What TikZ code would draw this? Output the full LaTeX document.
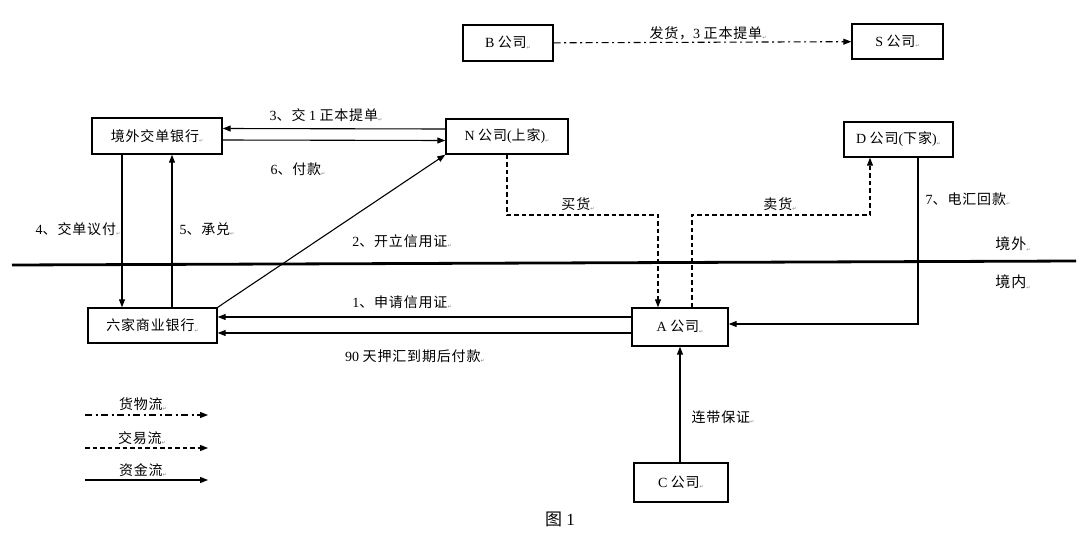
\documentclass[tikz,border=0pt]{standalone}
\usepackage{fontspec}
\setmainfont{Liberation Serif}
\newfontfamily\cjk[LetterSpace=6]{Noto Sans CJK SC}
\newfontfamily\symfont{DejaVu Sans}
\usetikzlibrary{arrows.meta,calc}
\newcommand\pmark{\raisebox{-1.5pt}{\symfont\fontsize{5}{5}\selectfont\textcolor{gray}{↵}}}
\begin{document}
\begin{tikzpicture}[x=1pt,y=-1pt,
  font=\fontsize{14}{16}\selectfont,
  box/.style={draw, line width=1.4pt, inner sep=0pt, align=center},
  lbl/.style={inner sep=0pt, anchor=center},
  tipx/.style={-{Triangle[length=8pt,width=6pt]}},
  money/.style={line width=1.1pt, tipx},
  trade/.style={line width=1.1pt, dash pattern=on 4.5pt off 3pt, tipx},
  goods/.style={line width=1.1pt, dash pattern=on 7pt off 3.5pt on 2pt off 3.5pt, tipx},
  plain/.style={line width=1.1pt}
]
\fill[white] (0,0) rectangle (1080,536);
\useasboundingbox (0,0) rectangle (1080,536);

% boxes
\node[box, minimum width=90pt, minimum height=36pt] (B) at (508,43) {B {\cjk 公司}\pmark};
\node[box, minimum width=91pt, minimum height=35pt] (S) at (897.5,41.5) {S {\cjk 公司}\pmark};
\node[box, minimum width=130pt, minimum height=36pt] (bankO) at (157,136) {{\cjk 境外交单银行}\pmark};
\node[box, minimum width=122pt, minimum height=35pt] (N) at (507,136.5) {N {\cjk 公司}({\cjk 上家})\pmark};
\node[box, minimum width=109pt, minimum height=35pt] (D) at (898.5,139.5) {D {\cjk 公司}({\cjk 下家})\pmark};
\node[box, minimum width=129pt, minimum height=35pt] (bankL) at (152.5,325.5) {{\cjk 六家商业银行}\pmark};
\node[box, minimum width=96pt, minimum height=38pt] (A) at (680,327) {A {\cjk 公司}\pmark};
\node[box, minimum width=94pt, minimum height=39pt] (C) at (681,482.5) {C {\cjk 公司}\pmark};

% border line
\coordinate (h1) at (12,265);
\coordinate (h2) at (1076,261);
\draw[line width=2.8pt] (h1) -- (h2);

% helper coordinates
\coordinate (m1) at (0,215);
\path ([xshift=-22pt]A.north) coordinate (aTL);
\path ([xshift=12pt]A.north) coordinate (aTR);
\path ([xshift=-28.5pt]D.south) coordinate (dB);
\path ([xshift=19.5pt]D.south) coordinate (d7);
\path ([yshift=3pt]A.east) coordinate (a7);
\path ([yshift=10pt]A.west) coordinate (a1);
\path ([yshift=-6pt]A.west) coordinate (a90);
\path ([xshift=-35pt]bankO.south) coordinate (o4);
\path ([xshift=15pt]bankO.south) coordinate (o5);

% connectors
\draw[goods] (B) -- (S);
\draw[money] ([yshift=7.5pt]N.west) -- ([yshift=7.5pt]bankO.east);
\draw[money] ([yshift=-4pt]bankO.east) -- ([yshift=-4pt]N.west);
\draw[money] (o4) -- (o4 |- bankL.north);
\draw[money] (o5 |- bankL.north) -- (o5);
\draw[money] (bankL.north east) -- (N.south west);
\draw[money] (a1) -- (a1 -| bankL.east);
\draw[money] (a90) -- (a90 -| bankL.east);
\draw[trade] (N.south) -- (N.south |- m1) -| (aTL);
\draw[trade] (aTR) -- (aTR |- m1) -| (dB);
\draw[money] (d7) |- (a7);
\draw[money] (C.north -| A.south) -- (A.south);

% labels
\node[lbl] (lg) at (708,33) {{\cjk 发货，}3 {\cjk 正本提单}\pmark};
\node[lbl] (l3) at (326,115) {3{\cjk 、交} 1 {\cjk 正本提单}\pmark};
\node[lbl] (l6) at (298,169) {6{\cjk 、付款}\pmark};
\node[lbl] (l4) at (78,229) {4{\cjk 、交单议付}\pmark};
\node[lbl] (l5) at (207,229) {5{\cjk 、承兑}\pmark};
\node[lbl] (l2) at (402,241) {2{\cjk 、开立信用证}\pmark};
\node[lbl] (l1) at (402,302) {1{\cjk 、申请信用证}\pmark};
\node[lbl] (l90) at (415,356) {90 {\cjk 天押汇到期后付款}\pmark};
\node[lbl] (lb) at (578,204) {{\cjk 买货}\pmark};
\node[lbl] (ls) at (780,204) {{\cjk 卖货}\pmark};
\node[lbl] (l7) at (968,199) {7{\cjk 、电汇回款}\pmark};
\node[lbl, font=\fontsize{15}{17}\selectfont] (lout) at (1013,244) {{\cjk 境外}\pmark};
\node[lbl, font=\fontsize{15}{17}\selectfont] (lin) at (1013,282) {{\cjk 境内}\pmark};
\node[lbl] (lc) at (723,417) {{\cjk 连带保证}\pmark};

% legend
\coordinate (g1) at (85,415);
\coordinate (g2) at (208,415);
\coordinate (t1) at (85,448);
\coordinate (t2) at (208,448);
\coordinate (f1) at (85,480);
\coordinate (f2) at (208,480);
\draw[goods] (g1) -- (g2);
\draw[trade] (t1) -- (t2);
\draw[money] (f1) -- (f2);
\node[lbl] (lgg) at (143,404) {{\cjk 货物流}\pmark};
\node[lbl] (lgt) at (142,438) {{\cjk 交易流}\pmark};
\node[lbl] (lgf) at (143,470) {{\cjk 资金流}\pmark};

% caption
\node[lbl, font=\fontsize{17}{19}\selectfont] (cap) at (560,519) {{\cjk 图} 1};
\end{tikzpicture}
\end{document}
